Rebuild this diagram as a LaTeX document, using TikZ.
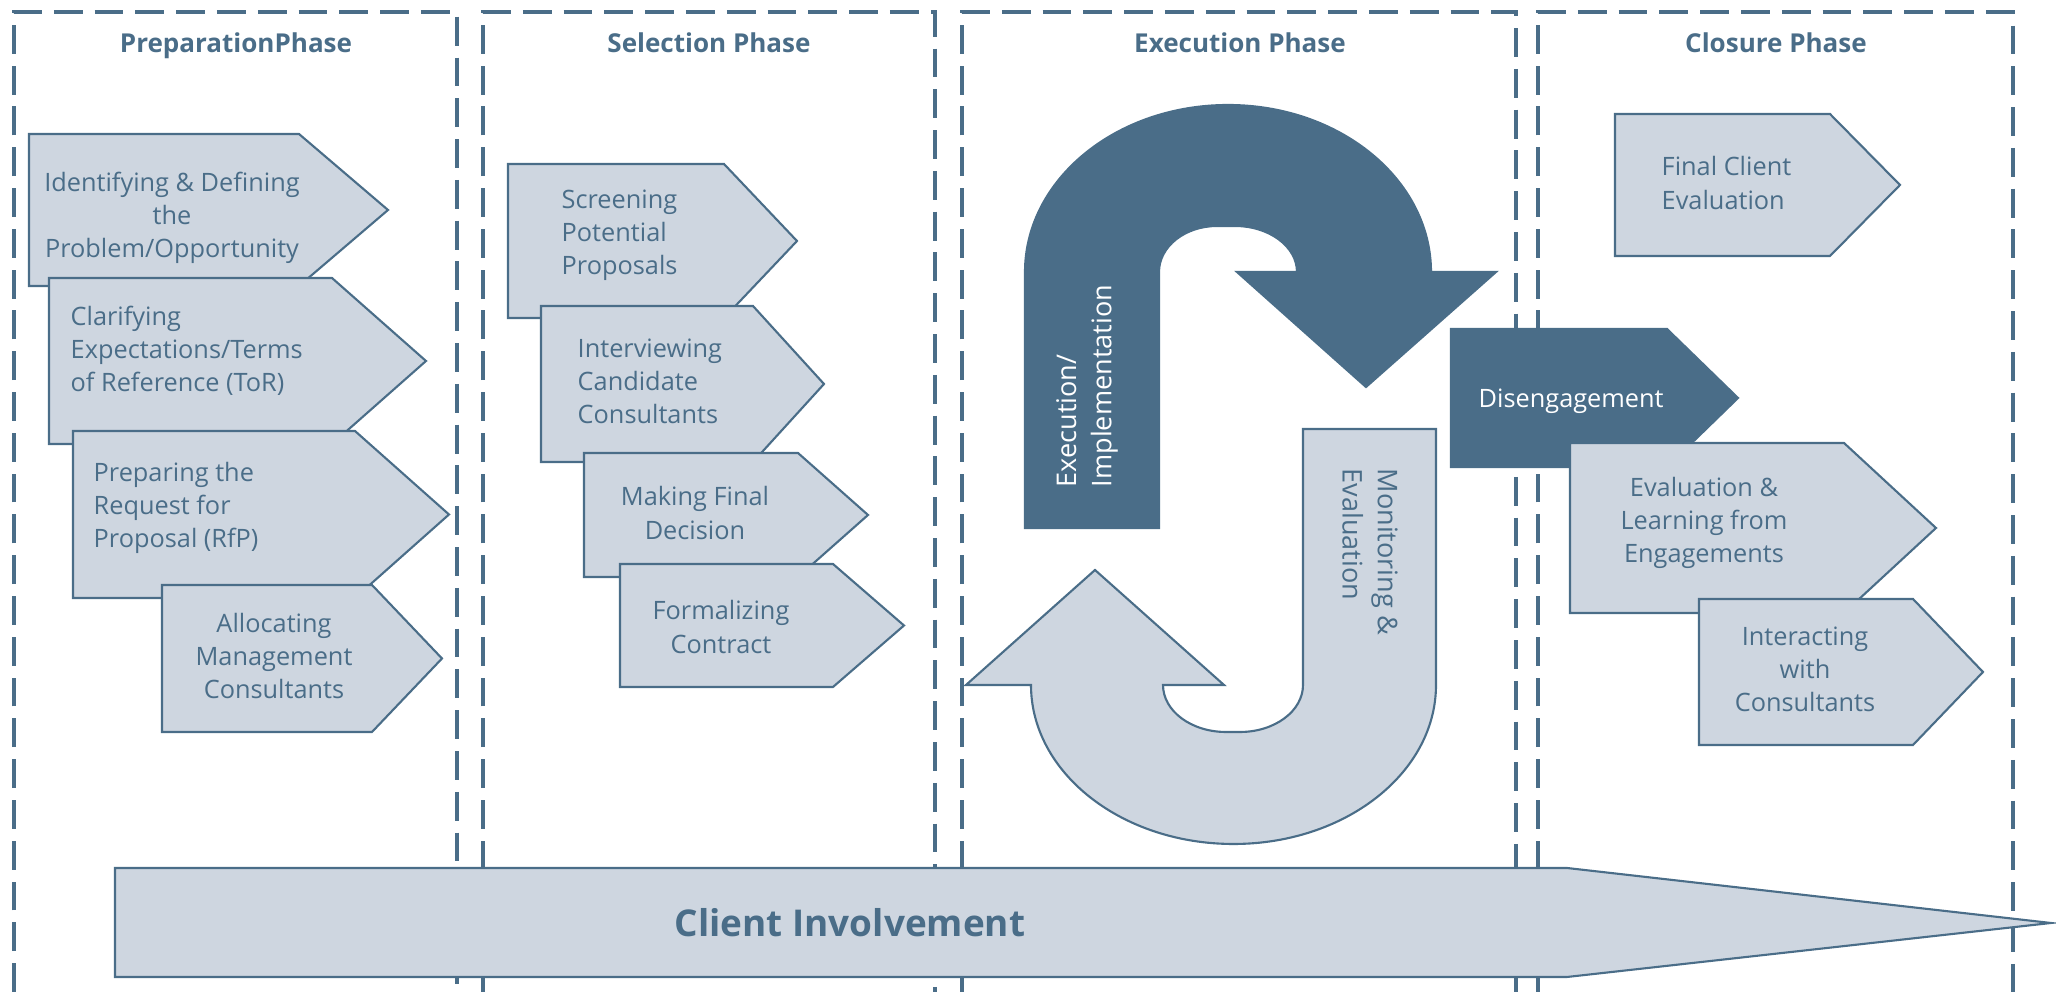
\documentclass[tikz,border=0pt]{standalone}
\usepackage{fontspec}
\setmainfont{Open Sans}
\definecolor{phaseblue}{RGB}{74,109,136}
\definecolor{chevfill}{RGB}{206,214,224}
\tikzset{
  phaseline/.style={draw=phaseblue, line width=1.2pt, dash pattern=on 8.2pt off 3.4pt},
  chevbox/.style={draw=phaseblue, fill=chevfill, line width=0.6pt},
  darkbox/.style={draw=phaseblue, fill=phaseblue, line width=0.6pt},
  phasetitle/.style={text=phaseblue, font=\bfseries\fontsize{7.4}{9}\selectfont, anchor=base, inner sep=0pt},
  chevtext/.style={text=phaseblue, font=\fontsize{7.2}{9.4}\selectfont, inner sep=0pt},
  turntext/.style={font=\fontsize{7.7}{10}\selectfont, inner sep=0pt, align=left, anchor=west},
}
% pentagon arrow: left, right, tip, top, bottom
\newcommand{\phasechev}[6][chevbox]{%
  \path[#1] (#2,#5) -- (#3,#5) -- (#4,{(#5+#6)/2}) -- (#3,#6) -- (#2,#6) -- cycle;}
\begin{document}
\begin{tikzpicture}[x=0.01cm,y=-0.01cm]
\useasboundingbox (0,0) rectangle (2056,992);
% phases
\draw[phaseline] (14,992) |- (457,12) -- (457,992);
\draw[phaseline] (483,992) |- (935,12) -- (935,992);
\draw[phaseline] (962,992) |- (1516,12) -- (1516,992);
\draw[phaseline] (1538,992) |- (2013,12) -- (2013,992);
\node[phasetitle] (prep) at (236,53) {PreparationPhase};
\node[phasetitle] (select) at (709,53) {Selection Phase};
\node[phasetitle] (exec) at (1240,53) {Execution Phase};
\node[phasetitle] (close) at (1776,53) {Closure Phase};
% preparation
\phasechev{29}{299}{388}{134}{286}
\node[chevtext, align=center] (identify) at (172,218) {Identifying \& Defining\\the\\Problem/Opportunity};
\phasechev{49}{332}{426}{278}{444}
\node[chevtext, align=left, anchor=west] (clarify) at (70,351) {Clarifying\\Expectations/Terms\\of Reference (ToR)};
\phasechev{73}{355}{449}{431}{598}
\node[chevtext, align=left, anchor=west] (prepare) at (93,508) {Preparing the\\Request for\\Proposal (RfP)};
\phasechev{162}{372}{442}{585}{732}
\node[chevtext, align=center] (allocate) at (274,656) {Allocating\\Management\\Consultants};
% selection
\phasechev{508}{724}{797}{164}{318}
\node[chevtext, align=left, anchor=west] (screen) at (561,235) {Screening\\Potential\\Proposals};
\phasechev{541}{753}{824}{306}{462}
\node[chevtext, align=left, anchor=west] (interview) at (577,381) {Interviewing\\Candidate\\Consultants};
\phasechev{584}{798}{868}{453}{577}
\node[chevtext, align=center] (decide) at (695,513) {Making Final\\Decision};
\phasechev{620}{833}{904}{564}{687}
\node[chevtext, align=center] (contract) at (721,627) {Formalizing\\Contract};
% execution
\path[darkbox] (1025,528) -- (1025,272) arc[start angle=180, end angle=360, x radius=203, y radius=167]
  -- (1496,272) -- (1366,387) -- (1237,272) -- (1297,272)
  arc[start angle=0, end angle=-90, x radius=62, y radius=46] -- (1217,226)
  arc[start angle=-90, end angle=-180, x radius=58, y radius=46] -- (1159,528) -- cycle;
\node[turntext, text=white, rotate=90] (implement) at (1087,488) {Execution/\\Implementation};
\path[chevbox] (1303,429) -- (1436,429) -- (1436,685) arc[start angle=0, end angle=180, x radius=202.5, y radius=159]
  -- (966,685) -- (1095,570) -- (1224,685) -- (1163,685)
  arc[start angle=180, end angle=90, x radius=63, y radius=47] -- (1240,732)
  arc[start angle=90, end angle=0, x radius=63, y radius=47] -- cycle;
\node[turntext, text=phaseblue, rotate=-90] (monitor) at (1370,468) {Monitoring \&\\Evaluation};
% closure
\phasechev{1615}{1830}{1900}{114}{256}
\node[chevtext, align=left, anchor=west] (finaleval) at (1661,183) {Final Client\\Evaluation};
\phasechev[darkbox]{1451}{1667}{1738}{329}{467}
\node[chevtext, text=white, anchor=base west] (disengage) at (1478,408) {Disengagement};
\phasechev{1570}{1844}{1936}{443}{613}
\node[chevtext, align=center] (learn) at (1704,523) {Evaluation \&\\Learning from\\Engagements};
\phasechev{1699}{1913}{1983}{599}{745}
\node[chevtext, align=center] (interact) at (1805,669) {Interacting\\with\\Consultants};
% client involvement
\path[chevbox] (115,868) -- (1567,868) -- (2051,923) -- (1567,977) -- (115,977) -- cycle;
\node[text=phaseblue, font=\bfseries\fontsize{10.5}{12}\selectfont] (client) at (850,923) {Client Involvement};
\end{tikzpicture}
\end{document}
